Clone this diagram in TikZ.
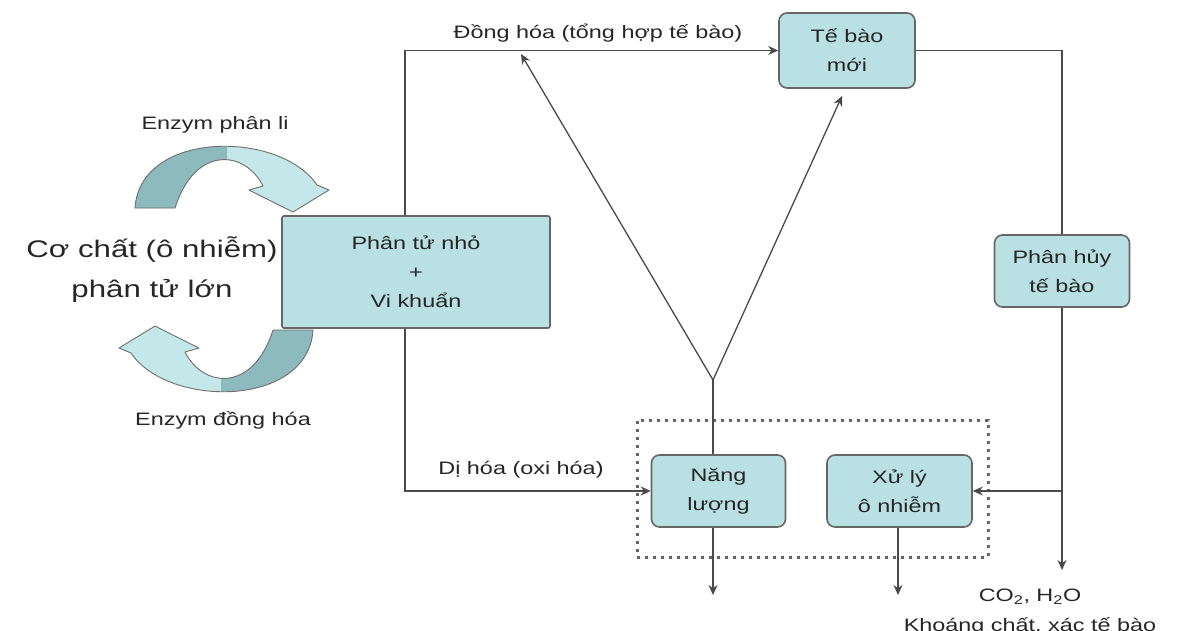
\documentclass[tikz,border=0pt]{standalone}
\usepackage{fontspec}
\setmainfont[FakeStretch=1.3]{Liberation Sans}
\usetikzlibrary{arrows.meta}
\definecolor{boxfill}{HTML}{B9E0E3}
\definecolor{boxline}{HTML}{666666}
\definecolor{linecol}{HTML}{4A4A4A}
\definecolor{txtcol}{HTML}{262626}
\definecolor{arrlight}{HTML}{C4E7EA}
\definecolor{arrdark}{HTML}{8DBBBD}
\newcommand\fsmall{\fontsize{18}{29}\selectfont}
\newcommand\fbig{\fontsize{24}{40}\selectfont}
\begin{document}
\begin{tikzpicture}[x=1pt,y=-1pt,
  box/.style={draw=boxline, fill=boxfill, line width=1.6pt, rounded corners=8pt,
    align=center, font=\fsmall, text=txtcol, inner sep=0pt},
  lab/.style={font=\fsmall, text=txtcol, inner sep=0pt},
  lin/.style={draw=linecol, line width=1.3pt},
  arr/.style={lin, -{Stealth[length=10pt,width=9pt]}},
  arrshape/.style={insert path={(135,208) .. controls (140,130) and (280,130) .. (317,185)
     -- (329,190) -- (293,212) -- (249,190) -- (263,186)
     .. controls (245,150) and (195,145) .. (175,208) -- cycle}},
]
\useasboundingbox (0,0) rectangle (1200,630);
\fill[white] (0,0) rectangle (1200,630);

% curved enzyme arrows
\foreach \ang in {0,180}{
\begin{scope}[rotate around={\ang:(224,269)}]
  \path[fill=arrlight, arrshape];
  \begin{scope}
    \clip (100,100) rectangle (227,240);
    \path[fill=arrdark, arrshape];
  \end{scope}
  \path[draw=linecol!80, line width=0.9pt, line join=round, arrshape];
\end{scope}
}

% dotted group
\node[draw=linecol!85, line width=3pt, dash pattern=on 3pt off 5pt,
  minimum width=351pt, minimum height=137pt, inner sep=0pt] (grp) at (812.5,488.5) {};

% boxes
\node[box, rounded corners=2pt, minimum width=268pt, minimum height=112pt] (big) at (416,272)
  {Phân tử nhỏ\\+\\Vi khuẩn};
\node[box, minimum width=136pt, minimum height=75pt] (tbm) at (847,50.5) {Tế bào\\mới};
\node[box, minimum width=135pt, minimum height=72pt] (ph) at (1062,271) {Phân hủy\\tế bào};
\node[box, minimum width=134pt, minimum height=72pt] (nl) at (718.5,491) {Năng\\lượng};
\node[box, minimum width=145pt, minimum height=72pt] (xl) at (899.5,491) {Xử lý\\ô nhiễm};

% texts
\node[font=\fbig, text=txtcol, align=center, inner sep=0pt] (sub) at (152,270)
  {Cơ chất (ô nhiễm)\\phân tử lớn};
\node[lab] (e1) at (215,125) {Enzym phân li};
\node[lab] (e2) at (223,420) {Enzym đồng hóa};
\node[lab] (l1) at (598,33) {Đồng hóa (tổng hợp tế bào)};
\node[lab] (l2) at (521,470) {Dị hóa (oxi hóa)};
\node[lab] (co2) at (1030,597) {CO\textsubscript{2}, H\textsubscript{2}O};
\node[lab] (kc) at (1030,626) {Khoáng chất, xác tế bào};

% coordinates
\coordinate (tl) at (405,50.5);
\coordinate (bl) at (405,491);
\coordinate (tri) at (713,380);
\coordinate (t1) at (521,54);
\coordinate (t2) at (842,96);
\coordinate (o1) at (713,595);
\coordinate (o2) at (898,595);
\coordinate (o3) at (1062,570);
\coordinate (br) at (1062,491);

% connectors
\draw[arr] (big.north -| tl) |- (tbm.west);
\draw[arr] (big.south -| bl) |- (nl.west);
\draw[lin] (nl.north -| tri) -- (tri);
\draw[arr] (tri) -- (t1);
\draw[arr] (tri) -- (t2);
\draw[lin] (tbm.east) -| (ph.north);
\draw[arr] (ph.south) -- (o3);
\draw[arr] (br) -- (xl.east);
\draw[arr] (nl.south -| o1) -- (o1);
\draw[arr] (xl.south -| o2) -- (o2);
\end{tikzpicture}
\end{document}
